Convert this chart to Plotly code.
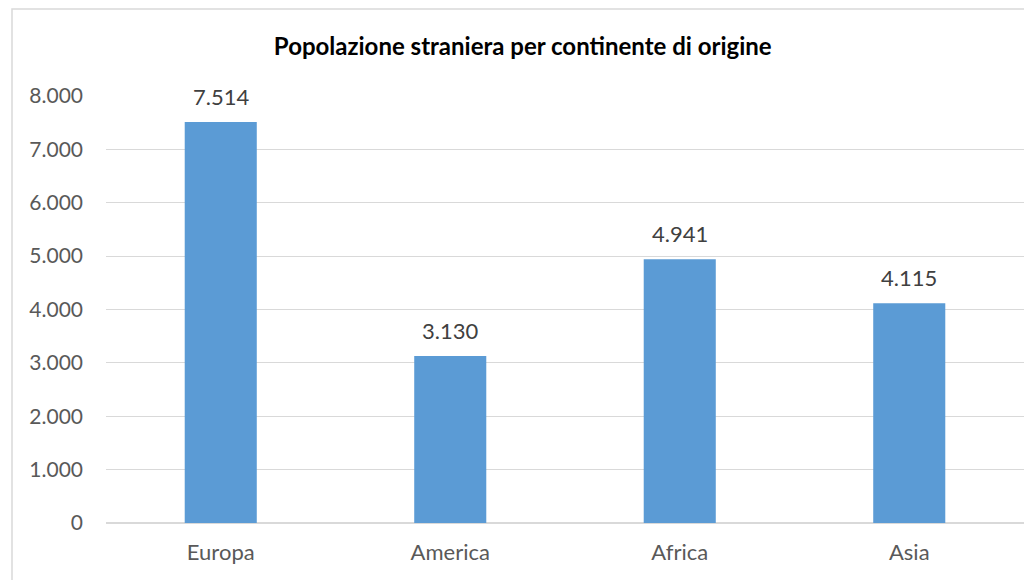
import plotly.graph_objects as go

continents = ["Europa", "America", "Africa", "Asia"]
population = [7514, 3130, 4941, 4115]
y_ticks = [0, 1000, 2000, 3000, 4000, 5000, 6000, 7000, 8000]

BAR = "#5B9BD5"
GRID = "#D9D9D9"
FONT = "Lato, Calibri, sans-serif"

fig = go.Figure(go.Bar(x=continents, y=population, marker=dict(color=BAR, line_width=0),
                       hoverinfo="x+y"))

# value labels sit a little above each bar, like Excel's
for c, v in zip(continents, population):
    fig.add_annotation(x=c, y=v, text=f"{v:,}".replace(",", "."), showarrow=False,
                       yanchor="bottom", yshift=10, font=dict(family=FONT, size=22, color="#404040"))

# chart-area border (cropped on the right and bottom in the original)
fig.add_shape(type="rect", xref="paper", yref="paper", x0=-0.1024, x1=1.2, y0=-0.3, y1=1.2037,
              line=dict(color=GRID, width=1.5), fillcolor="rgba(0,0,0,0)", layer="below")

fig.update_layout(
    width=1024, height=580,
    margin=dict(l=106, r=0, t=96, b=57),
    paper_bgcolor="white", plot_bgcolor="white",
    separators=",.",
    bargap=0.686,
    showlegend=False,
    title=dict(text="<b>Popolazione straniera per continente di origine</b>",
               x=0.454, xref="paper", xanchor="center", y=0.919, yanchor="middle",
               font=dict(family=FONT, size=24, color="black")),
    font=dict(family=FONT, size=21, color="#595959"),
)
fig.update_xaxes(showgrid=False, showline=False, zeroline=False, ticks="",
                 ticklabelstandoff=14, tickfont=dict(size=22, color="#595959"))
fig.update_yaxes(range=[0, 8000], tickvals=y_ticks, tickformat=",", showgrid=True, gridcolor=GRID,
                 gridwidth=1, zeroline=True, zerolinecolor=GRID, zerolinewidth=1.5, showline=False,
                 ticks="", ticklabelstandoff=22, tickfont=dict(size=21, color="#595959"))

# drop the browser's default 8px body margin so the figure fills the window exactly
fig.write_html("out.html", config={"displayModeBar": False},
               post_script="document.body.style.margin='0';"
                           "document.body.style.overflow='hidden';")
